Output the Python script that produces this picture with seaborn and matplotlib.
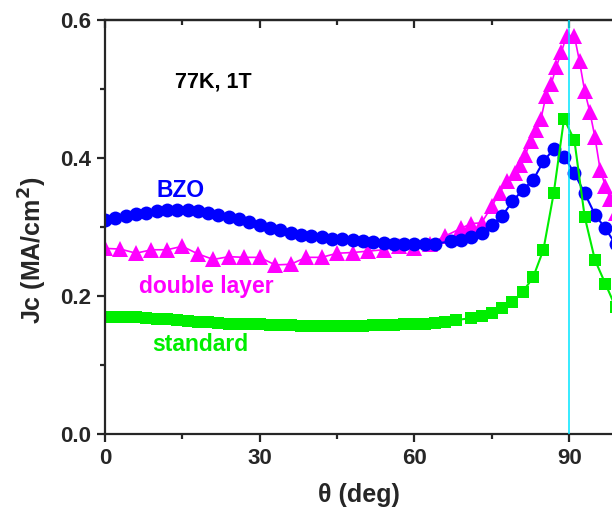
import numpy as np
import pandas as pd
import matplotlib
matplotlib.use("Agg")
import matplotlib.pyplot as plt
import seaborn as sns

# --- data (theta in deg, Jc in MA/cm^2) ---
theta_std = [0, 2, 4, 6, 8, 10, 12, 14, 16, 18, 20, 22, 24, 26, 28, 30, 32, 34, 36, 38,
             40, 42, 44, 46, 48, 50, 52, 54, 56, 58, 60, 62, 64, 66, 68,
             71, 73, 75, 77, 79, 81, 83, 85, 87, 89, 91, 93, 95, 97, 99]
jc_std = [0.170, 0.170, 0.169, 0.169, 0.168, 0.167, 0.166, 0.165, 0.164, 0.163,
          0.162, 0.161, 0.160, 0.160, 0.159, 0.159, 0.158, 0.158, 0.158, 0.157,
          0.157, 0.157, 0.157, 0.157, 0.157, 0.157, 0.158, 0.158, 0.158, 0.159,
          0.159, 0.160, 0.161, 0.163, 0.165,
          0.168, 0.171, 0.175, 0.182, 0.192, 0.206, 0.227, 0.267, 0.349, 0.457,
          0.426, 0.315, 0.252, 0.218, 0.184]

theta_bzo = [0, 2, 4, 6, 8, 10, 12, 14, 16, 18, 20, 22, 24, 26, 28, 30, 32, 34, 36, 38,
             40, 42, 44, 46, 48, 50, 52, 54, 56, 58, 60, 62, 64,
             67, 69, 71, 73, 75, 77, 79, 81, 83, 85, 87, 89, 91, 93, 95, 97, 99]
jc_bzo = [0.310, 0.313, 0.316, 0.319, 0.321, 0.323, 0.324, 0.325, 0.324, 0.323,
          0.321, 0.318, 0.315, 0.311, 0.307, 0.303, 0.299, 0.295, 0.292, 0.289,
          0.287, 0.285, 0.283, 0.282, 0.281, 0.280, 0.278, 0.277, 0.276, 0.275,
          0.275, 0.275, 0.276,
          0.279, 0.281, 0.286, 0.292, 0.303, 0.316, 0.337, 0.354, 0.368, 0.395,
          0.413, 0.402, 0.378, 0.349, 0.318, 0.298, 0.275]

theta_dbl = [0, 3, 6, 9, 12, 15, 18, 21, 24, 27, 30, 33, 36, 39, 42, 45, 48, 51, 54, 57,
             60, 63, 66, 69, 71, 73, 75, 76.5, 78, 79.5, 80.5, 81.5, 82.5, 83.5, 84.5,
             85.5, 86.5, 87.5, 88.5, 89.5, 91, 92, 93, 94, 95, 96, 97, 98, 99]
jc_dbl = [0.269, 0.268, 0.262, 0.267, 0.267, 0.272, 0.261, 0.253, 0.257, 0.256,
          0.256, 0.245, 0.246, 0.256, 0.256, 0.262, 0.263, 0.265, 0.267, 0.272,
          0.270, 0.275, 0.287, 0.298, 0.305, 0.306, 0.330, 0.350, 0.366, 0.378,
          0.390, 0.405, 0.424, 0.440, 0.456, 0.490, 0.507, 0.532, 0.554, 0.577,
          0.577, 0.540, 0.497, 0.467, 0.430, 0.383, 0.360, 0.340, 0.320]

df_std = pd.DataFrame({"theta": theta_std, "Jc": jc_std})
df_bzo = pd.DataFrame({"theta": theta_bzo, "Jc": jc_bzo})
df_dbl = pd.DataFrame({"theta": theta_dbl, "Jc": jc_dbl})

sns.set_style("ticks")
plt.rcParams["font.family"] = ["Liberation Sans", "DejaVu Sans"]
plt.rcParams["font.weight"] = "bold"
plt.rcParams["axes.labelweight"] = "bold"

fig = plt.figure(figsize=(6.12, 5.08), dpi=100)
ax = fig.add_axes([0.1716, 0.1457, 0.8284, 0.8149])

# double layer, BZO, standard
sns.lineplot(data=df_dbl, x="theta", y="Jc", ax=ax, color="#ff00ff", marker="^",
             markersize=11.5, markeredgewidth=0, linewidth=1.2, estimator=None, sort=False)
sns.lineplot(data=df_bzo, x="theta", y="Jc", ax=ax, color="#0000ff", marker="o",
             markersize=10, markeredgewidth=0, linewidth=1.5, estimator=None, sort=False)
sns.lineplot(data=df_std, x="theta", y="Jc", ax=ax, color="#00ee00", marker="s",
             markersize=8.5, markeredgewidth=0, linewidth=1.5, estimator=None, sort=False)

ax.axvline(90, color="#00e5ff", linewidth=1.1, zorder=5)

ax.set_xlim(0, 98.3)
ax.set_ylim(0, 0.6)
ax.set_xticks([0, 30, 60, 90])
ax.set_xticks([15, 45, 75], minor=True)
ax.set_yticks([0.0, 0.2, 0.4, 0.6])
ax.set_yticks([0.1, 0.3, 0.5], minor=True)
ax.set_yticklabels(["0.0", "0.2", "0.4", "0.6"])

for s in ["left", "bottom", "top"]:
    ax.spines[s].set_linewidth(1.6)
ax.spines["right"].set_visible(False)

ax.tick_params(which="major", direction="out", length=6, width=1.6, labelsize=16, pad=4)
ax.tick_params(which="minor", direction="out", length=3.5, width=1.6)

top = ax.secondary_xaxis("top")
top.set_xticks([0, 30, 60, 90])
top.set_xticks([15, 45, 75], minor=True)
top.tick_params(which="major", direction="in", length=6, width=1.6, labeltop=False)
top.tick_params(which="minor", direction="in", length=3.5, width=1.6)
top.spines["top"].set_linewidth(1.6)

ax.set_xlabel("θ (deg)", fontsize=18, fontweight="bold", labelpad=10)
ax.set_ylabel("Jc (MA/cm$^\\mathbf{2}$)", fontsize=18, fontweight="bold")
ax.yaxis.set_label_coords(-0.11, 0.444)

ax.text(21, 0.51, "77K, 1T", fontsize=15.5, fontweight="bold", color="black",
        ha="center", va="center")
ax.text(14.7, 0.353, "BZO", fontsize=16.5, fontweight="bold", color="#0000ff",
        ha="center", va="center")
ax.text(19.7, 0.2135, "double layer", fontsize=16.5, fontweight="bold", color="#ff00ff",
        ha="center", va="center")
ax.text(18.4, 0.129, "standard", fontsize=16.5, fontweight="bold", color="#00ee00",
        ha="center", va="center")

fig.savefig("out.png", dpi=100)
